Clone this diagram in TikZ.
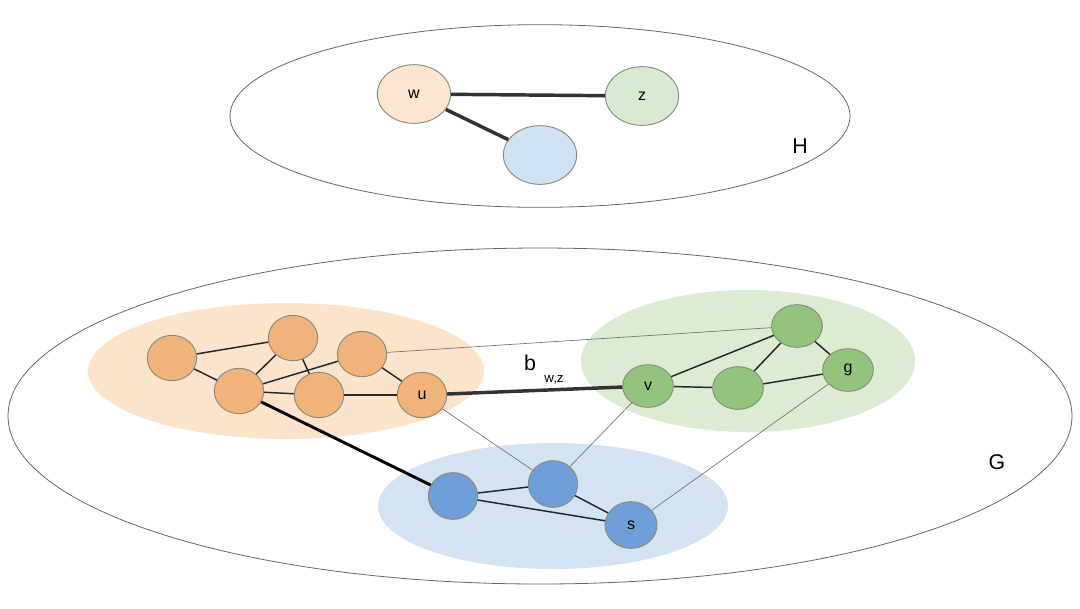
\documentclass[tikz,border=0pt]{standalone}
\usepackage{fontspec}
\setmainfont{Liberation Sans}
\usetikzlibrary{shapes.geometric}
\definecolor{obg}{HTML}{FBE3CC}
\definecolor{gbg}{HTML}{DCEBD2}
\definecolor{bbg}{HTML}{D3E3F1}
\definecolor{ofill}{HTML}{F0B37A}
\definecolor{gfill}{HTML}{93C47D}
\definecolor{bfill}{HTML}{6F9FD8}
\definecolor{hw}{HTML}{FCE6D2}
\definecolor{hz}{HTML}{D9EAD3}
\definecolor{hb}{HTML}{CFE2F3}
\definecolor{nstroke}{HTML}{8A8A7A}
\tikzset{
  vtx/.style={ellipse, draw=nstroke, line width=0.7pt, inner sep=0pt, font=\fontsize{12}{14}\selectfont},
  onode/.style={vtx, fill=ofill, minimum width=37pt, minimum height=34pt},
  gnode/.style={vtx, fill=gfill, minimum width=38pt, minimum height=32pt},
  bnode/.style={vtx, fill=bfill, minimum width=37pt, minimum height=35pt},
  hnode/.style={vtx, minimum width=55pt, minimum height=44pt},
  ed/.style={draw=black!85, line width=1.1pt},
  thinedge/.style={draw=black!55, line width=0.5pt},
  thick edge/.style={draw=black!80, line width=2.6pt},
  bigellipse/.style={ellipse, draw=black!60, line width=0.6pt, inner sep=0pt},
  biglabel/.style={font=\fontsize{16}{18}\selectfont}
}
\begin{document}
\begin{tikzpicture}[x=0.75pt,y=-0.75pt]
\useasboundingbox (0,0) rectangle (1080,608);
% outer ellipses
\node[bigellipse, minimum width=465pt, minimum height=137pt] (Hell) at (540,116) {};
\node[bigellipse, minimum width=798pt, minimum height=252pt] (Gell) at (540,416) {};
% cluster backgrounds
\fill[obg] (286,371) ellipse [x radius=198, y radius=68];
\fill[gbg] (748,361) ellipse [x radius=167, y radius=71];
\fill[bbg] (553,506) ellipse [x radius=175, y radius=63];
% H
\node[hnode, fill=hw] (w) at (414,94) {w};
\node[hnode, fill=hz] (z) at (642,96) {z};
\node[hnode, fill=hb] (hb) at (540,155) {};
\draw[thick edge] (w) -- (z);
\draw[thick edge] (w) -- (hb);
\node[biglabel] (Hlab) at (800,146) {H};
% G orange
\node[onode] (o1) at (172,358) {};
\node[onode] (o2) at (293,338) {};
\node[onode] (o3) at (239,391) {};
\node[onode] (o4) at (319,395) {};
\node[onode] (o5) at (362,354) {};
\node[onode] (u) at (422,395) {u};
% green
\node[gnode] (g1) at (797,326) {};
\node[gnode] (v) at (648,386) {v};
\node[gnode] (g2) at (738,388) {};
\node[gnode] (g) at (848,370) {g};
% blue
\node[bnode] (b1) at (453,496) {};
\node[bnode] (b2) at (553,484) {};
\node[bnode, minimum width=39pt] (s) at (631,525) {s};
% edges
\draw[ed] (o1) -- (o2);
\draw[ed] (o1) -- (o3);
\draw[ed] (o2) -- (o3);
\draw[ed] (o2) -- (o4);
\draw[ed] (o3) -- (o5);
\draw[ed] (o3) -- (o4);
\draw[ed] (o4) -- (u);
\draw[ed] (o5) -- (u);
\draw[ed] (v) -- (g1);
\draw[ed] (v) -- (g2);
\draw[ed] (g1) -- (g2);
\draw[ed] (g1) -- (g);
\draw[ed] (g2) -- (g);
\draw[ed] (b1) -- (b2);
\draw[ed] (b2) -- (s);
\draw[ed] (b1) -- (s);
\draw[thinedge] (o5) -- (g1);
\draw[thinedge] (u) -- (b2);
\draw[thinedge] (v) -- (b2);
\draw[thinedge] (g) -- (s);
\draw[draw=black, line width=2.2pt] (o3) -- (b1);
\draw[thick edge] (u) -- (v);
\node[biglabel, anchor=base] (blab) at (530,370) {b};
\node[font=\fontsize{10}{12}\selectfont, anchor=base] (bsub) at (554,382) {w,z};
\node[biglabel] (Glab) at (997,462) {G};
\end{tikzpicture}
\end{document}
